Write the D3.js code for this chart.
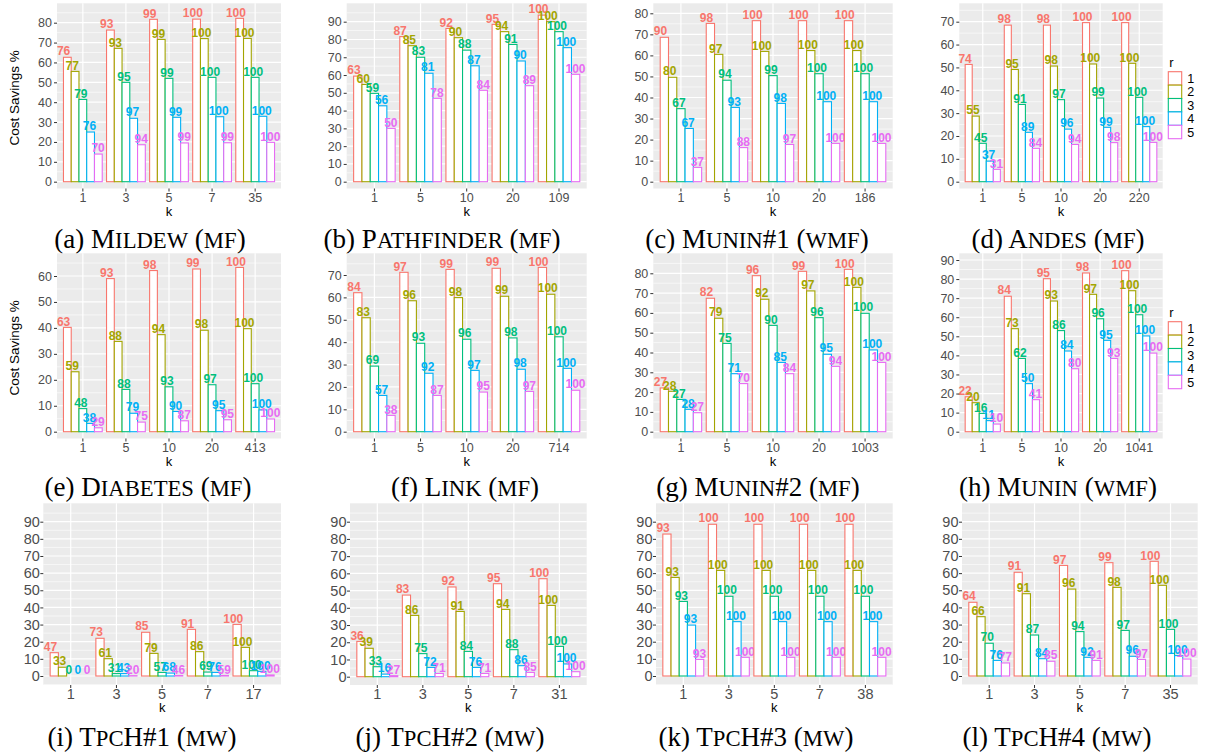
<!DOCTYPE html>
<html><head><meta charset="utf-8">
<script src="https://cdn.jsdelivr.net/npm/d3@7"></script>
<style>body{margin:0;background:#fff}svg{display:block}</style>
</head><body>
<svg id="chart" width="1206" height="756"></svg>
<script>
// ---------------- DATA ----------------
const rLevels = ["1","2","3","4","5"];
const yTitle = "Cost Savings %";
const xTitle = "k";

// each cost/pct array: one row per k value, entries for r = 1..5
const kMildew = ["1","3","5","7","35"];
const costMildew = [[62.6,55.5,41.4,25,13.9],[76.3,67.1,50,31.9,18.6],[81.7,71.6,52,32.4,19.5],[81.8,72,52.5,32.7,19.6],[82.2,72.1,52.5,32.9,19.8]];
const pctMildew = [[76,77,79,76,70],[93,93,95,97,94],[99,99,99,99,99],[100,100,100,100,99],[100,100,100,100,100]];

const kPathfinder = ["1","5","10","20","109"];
const costPathfinder = [[59.4,54.7,49.7,42.7,30],[81.6,76.5,70,61,46.9],[86.2,81,74,65.2,51.4],[88.5,84.4,77.2,67.9,54],[93.7,90,84.4,75.4,60.4]];
const pctPathfinder = [[63,60,59,56,50],[87,85,83,81,78],[92,90,88,87,84],[95,94,91,90,89],[100,100,100,100,100]];

const kMunin1 = ["1","5","10","20","186"];
const costMunin1 = [[68.6,49.6,34.7,25.3,6.8],[75.2,60.5,48.2,35.3,16.2],[76.5,61.9,50.4,37.2,17.7],[76.5,62.3,51.3,38,18.2],[76.5,62.3,51.3,38,18.2]];
const pctMunin1 = [[90,80,67,67,37],[98,97,94,93,88],[100,100,99,98,97],[100,100,100,100,100],[100,100,100,100,100]];

const kAndes = ["1","5","10","20","220"];
const costAndes = [[51.3,28.7,16.8,9,5.4],[68.5,49.1,33.8,21.6,14.6],[68.5,50.6,35.9,23,16.3],[69.6,51.5,36.6,23.8,17.1],[69.6,51.8,36.9,24.1,17.2]];
const pctAndes = [[74,55,45,37,31],[98,95,91,89,84],[98,98,97,96,94],[100,100,99,99,98],[100,100,100,100,100]];

const kDiabetes = ["1","5","10","20","413"];
const costDiabetes = [[40.2,23.1,8.9,3.2,1.5],[59,34.8,16.3,7.1,3.7],[62.1,37.4,17.3,7.8,4.2],[62.7,39.1,18.1,8.1,4.6],[63.3,39.7,18.5,8.4,4.9]];
const pctDiabetes = [[63,59,48,38,29],[93,88,88,79,75],[98,94,93,90,87],[99,98,97,95,95],[100,100,100,100,100]];

const kLink = ["1","5","10","20","714"];
const costLink = [[62.1,50.9,29.3,16.2,7.3],[71.2,58.5,39.5,26.1,16.2],[72.5,59.9,41.3,27.4,17.7],[73,60.5,41.9,27.9,18],[73.4,61.4,42.4,28.3,18.5]];
const pctLink = [[84,83,69,57,38],[97,96,93,92,87],[99,98,96,97,95],[99,99,98,98,97],[100,100,100,100,100]];

const kMunin2 = ["1","5","10","20","1003"];
const costMunin2 = [[22.1,20.4,16.3,11.3,9.6],[67.4,57.3,44.6,29.3,24.3],[78.8,66.9,53.7,35,29.3],[81,71.1,57.6,39.1,33],[82,72.9,59.8,41.3,35]];
const pctMunin2 = [[27,28,27,28,27],[82,79,75,71,70],[96,92,90,85,84],[99,97,96,95,94],[100,100,100,100,100]];

const kMunin = ["1","5","10","20","1041"];
const costMunin = [[18.3,15.2,9.6,5.8,4],[71,54,38.4,25.2,16.8],[80.2,68.5,53,42.3,33],[83.2,72,59.2,47.9,38.4],[84.4,73.9,61.3,50.2,41.2]];
const pctMunin = [[22,20,16,11,10],[84,73,62,50,41],[95,93,86,84,80],[98,97,96,95,93],[100,100,100,100,100]];

const kTpch1 = ["1","3","5","7","17"];
const costTpch1 = [[13.6,5.1,0,0,0],[22,10.1,1.4,1.4,0.2],[25.5,13.2,2.1,1.7,0.3],[27.2,14.2,2.3,2.1,0.3],[30.1,16.7,3.1,2.7,0.6]];
const pctTpch1 = [[47,33,0,0,0],[73,61,31,43,20],[85,79,57,68,46],[91,86,69,76,59],[100,100,100,100,100]];

const kTpch2 = ["1","3","5","7","31"];
const costTpch2 = [[20.5,16.5,5.8,1.5,0.6],[47.4,35.6,13.4,5.4,1.9],[52.1,37.9,14.7,5.4,1.9],[54,39.1,15.7,6.4,2.5],[56.9,41.4,17.6,7.4,2.9]];
const pctTpch2 = [[36,39,33,16,27],[83,86,75,72,71],[92,91,84,76,71],[95,94,88,86,85],[100,100,100,100,100]];

const kTpch3 = ["1","3","5","7","38"];
const costTpch3 = [[82.8,57.5,43.5,29.7,9.7],[88.5,61.6,46.5,31.7,10.9],[88.5,61.6,46.5,31.7,10.9],[88.5,61.6,46.5,31.7,10.9],[88.5,61.6,46.5,31.7,10.9]];
const pctTpch3 = [[93,93,93,93,93],[100,100,100,100,100],[100,100,100,100,100],[100,100,100,100,100],[100,100,100,100,100]];

const kTpch4 = ["1","3","5","7","35"];
const costTpch4 = [[43,34.6,19.1,9.1,7.6],[60.5,48,23.9,10.1,8.6],[64.5,50.7,25.9,10.9,9.1],[66.1,51.7,26.6,11.5,9.7],[66.9,52.9,27.2,11.9,9.9]];
const pctTpch4 = [[64,66,70,76,77],[91,91,87,84,85],[97,96,94,92,91],[99,98,97,96,97],[100,100,100,100,100]];

const yTopTick = [80,90,80,70,60,70,80,90,90,90,90,90];

const captionTag = ["(a)","(b)","(c)","(d)","(e)","(f)","(g)","(h)","(i)","(j)","(k)","(l)"];
const captionName = ["Mildew","Pathfinder","Munin#1","Andes","Diabetes","Link","Munin#2","Munin","TpcH#1","TpcH#2","TpcH#3","TpcH#4"];
const captionMode = ["mf","mf","wmf","mf","mf","mf","mf","wmf","mw","mw","mw","mw"];

// ---------------- STYLE / LAYOUT ----------------
const colors = ["#F8766D","#A3A500","#00BF7D","#00B0F6","#E76BF3"];
const panels = [
  {k:kMildew,cost:costMildew,pct:pctMildew},
  {k:kPathfinder,cost:costPathfinder,pct:pctPathfinder},
  {k:kMunin1,cost:costMunin1,pct:pctMunin1},
  {k:kAndes,cost:costAndes,pct:pctAndes},
  {k:kDiabetes,cost:costDiabetes,pct:pctDiabetes},
  {k:kLink,cost:costLink,pct:pctLink},
  {k:kMunin2,cost:costMunin2,pct:pctMunin2},
  {k:kMunin,cost:costMunin,pct:pctMunin},
  {k:kTpch1,cost:costTpch1,pct:pctTpch1},
  {k:kTpch2,cost:costTpch2,pct:pctTpch2},
  {k:kTpch3,cost:costTpch3,pct:pctTpch3},
  {k:kTpch4,cost:costTpch4,pct:pctTpch4}
];
const layout = [
  {x0:57,x1:281,top:3.3,bottom:188.5,zeroY:181.7,refY:22.7,capX:150},
  {x0:346.7,x1:586.7,top:3.3,bottom:188.5,zeroY:181.7,refY:21.7,capX:442},
  {x0:653.3,x1:892.7,top:3.3,bottom:188.5,zeroY:181.7,refY:13.3,capX:757},
  {x0:959.3,x1:1162.7,top:3.3,bottom:188.5,zeroY:181.7,refY:21.7,capX:1058},
  {x0:57,x1:281,top:253.3,bottom:438.5,zeroY:431.7,refY:276,capX:148},
  {x0:346.7,x1:586.7,top:253.3,bottom:438.5,zeroY:431.7,refY:275,capX:465},
  {x0:653.3,x1:892.7,top:253.3,bottom:438.5,zeroY:431.7,refY:273.3,capX:758},
  {x0:959.3,x1:1162.7,top:253.3,bottom:438.5,zeroY:431.7,refY:260,capX:1058},
  {x0:43.3,x1:281,top:503.3,bottom:685,zeroY:676,refY:521.7,capX:142},
  {x0:350,x1:586.7,top:503.3,bottom:685,zeroY:676.7,refY:521.7,capX:450},
  {x0:656,x1:892.7,top:503.3,bottom:685,zeroY:676,refY:521.7,capX:756},
  {x0:962,x1:1197.7,top:503.3,bottom:685,zeroY:676,refY:521.7,capX:1057}
];
const rowCapY = [248, 496, 746];
const rowTickFont = [12.5, 12.5, 14.5];
const rowTickPad = [2, 2, 0.5];
const rowXTitleDy = [27.5, 27.5, 27];
const FONT = "'Liberation Sans', Arial, sans-serif";
const SERIF = "'Liberation Serif', 'Times New Roman', serif";
const CAP_SIZE = 27, SC = 0.84;

const svg = d3.select("#chart");

function addSmallCaps(textSel, str) {
  // lowercase letters -> reduced-size capitals; everything else full size
  let runs = [];
  for (const ch of str) {
    const low = ch !== ch.toUpperCase();
    if (runs.length && runs[runs.length - 1].low === low) runs[runs.length - 1].s += ch;
    else runs.push({low, s: ch});
  }
  runs.forEach(r => {
    textSel.append("tspan").attr("font-size", r.low ? CAP_SIZE * SC : CAP_SIZE)
      .text(r.low ? r.s.toUpperCase() : r.s);
  });
}

panels.forEach((p, i) => {
  const L = layout[i];
  const row = Math.floor(i / 4), col = i % 4;
  const g = svg.append("g");
  const x = d3.scaleBand().domain(p.k).range([L.x0, L.x1]).paddingInner(0).paddingOuter(0.1);
  const y = d3.scaleLinear().domain([0, yTopTick[i]]).range([L.zeroY, L.refY]);
  const vTop = y.invert(L.top), vBot = y.invert(L.bottom);

  g.append("rect").attr("x", L.x0).attr("y", L.top).attr("width", L.x1 - L.x0)
    .attr("height", L.bottom - L.top).attr("fill", "#EBEBEB");

  const minor = d3.range(Math.ceil(vBot / 5) * 5, vTop, 5)
    .filter(v => Math.abs(v % 10) === 5 && v <= yTopTick[i] + 5);
  const major = d3.range(0, yTopTick[i] + 1, 10);
  g.selectAll(".mn").data(minor).join("line")
    .attr("x1", L.x0).attr("x2", L.x1).attr("y1", d => y(d)).attr("y2", d => y(d))
    .attr("stroke", "#fff").attr("stroke-width", 0.6);
  g.selectAll(".mj").data(major).join("line")
    .attr("x1", L.x0).attr("x2", L.x1).attr("y1", d => y(d)).attr("y2", d => y(d))
    .attr("stroke", "#fff").attr("stroke-width", 1.2);
  g.selectAll(".mv").data(p.k).join("line")
    .attr("x1", d => x(d) + x.bandwidth() / 2).attr("x2", d => x(d) + x.bandwidth() / 2)
    .attr("y1", L.top).attr("y2", L.bottom)
    .attr("stroke", "#fff").attr("stroke-width", 1.2);

  const inner = d3.scaleBand().domain(rLevels).range([0, x.bandwidth() * 0.9]);
  const labelStep = x.bandwidth() * 0.2;

  p.k.forEach((kv, ki) => {
    const gx = x(kv) + x.bandwidth() * 0.05;
    const gc = x(kv) + x.bandwidth() / 2;
    const recs = rLevels.map((r, ri) => ({r, ri, v: p.cost[ki][ri], pc: p.pct[ki][ri]}));
    g.selectAll(null).data(recs).join("rect")
      .attr("x", d => gx + inner(d.r))
      .attr("y", d => y(d.v))
      .attr("width", inner.bandwidth())
      .attr("height", d => y(0) - y(d.v))
      .attr("fill", "#fff")
      .attr("stroke", d => colors[d.ri])
      .attr("stroke-width", 1.1);
    g.selectAll(null).data(recs).join("text")
      .attr("x", d => gc + (d.ri - 2) * labelStep - 2)
      .attr("y", d => y(d.v) - 1.8)
      .attr("text-anchor", "middle")
      .attr("font-family", FONT).attr("font-weight", "bold").attr("font-size", 12)
      .attr("fill", d => colors[d.ri])
      .text(d => d.pc);
  });

  // axes
  const ya = g.append("g").attr("transform", `translate(${L.x0},0)`)
    .call(d3.axisLeft(y).tickValues(major).tickSize(3).tickPadding(rowTickPad[row]));
  const xa = g.append("g").attr("transform", `translate(0,${L.bottom})`)
    .call(d3.axisBottom(x).tickSize(3).tickPadding(rowTickPad[row]));
  [ya, xa].forEach(a => {
    a.select(".domain").remove();
    a.selectAll(".tick line").attr("stroke", "#333").attr("stroke-width", 1);
    a.selectAll(".tick text").attr("fill", "#4D4D4D").attr("font-family", FONT)
      .attr("font-size", rowTickFont[row]);
  });

  g.append("text").attr("x", (L.x0 + L.x1) / 2).attr("y", L.bottom + rowXTitleDy[row])
    .attr("text-anchor", "middle").attr("font-family", FONT).attr("font-size", 13)
    .attr("fill", "#000").text(xTitle);

  if (col === 0 && row < 2) {
    const cy = (L.top + L.bottom) / 2 + 2;
    g.append("text").attr("transform", `translate(19,${cy}) rotate(-90)`)
      .attr("text-anchor", "middle").attr("font-family", FONT).attr("font-size", 13.5)
      .attr("fill", "#000").text(yTitle);
  }

  if (col === 3 && row < 2) {
    const lx = 1168.3, ly = L.top + 68.4, kh = 13.4;
    g.append("text").attr("x", lx + 1).attr("y", ly - 5).attr("font-family", FONT)
      .attr("font-size", 13).attr("fill", "#000").text("r");
    rLevels.forEach((r, ri) => {
      g.append("rect").attr("x", lx).attr("y", ly + ri * kh).attr("width", 13.4).attr("height", kh)
        .attr("fill", "#fff").attr("stroke", colors[ri]).attr("stroke-width", 1.1);
      g.append("text").attr("x", lx + 19).attr("y", ly + ri * kh + kh / 2 + 4.5)
        .attr("font-family", FONT).attr("font-size", 12.5).attr("fill", "#000").text(r);
    });
  }

  // caption
  const cap = g.append("text").attr("x", L.capX).attr("y", rowCapY[row])
    .attr("text-anchor", "middle").attr("font-family", SERIF)
    .attr("font-size", CAP_SIZE).attr("fill", "#000");
  cap.append("tspan").text(captionTag[i] + " ");
  addSmallCaps(cap, captionName[i] + " (" + captionMode[i] + ")");
});
</script>
</body></html>
